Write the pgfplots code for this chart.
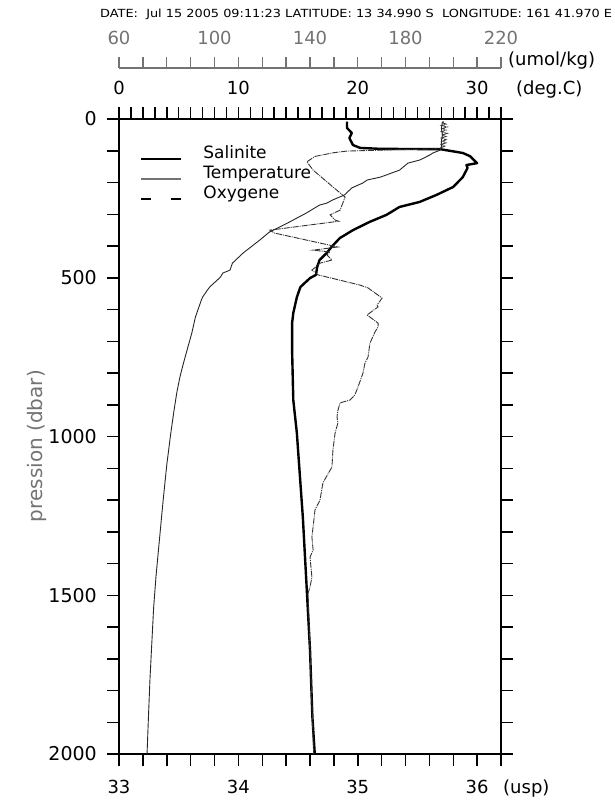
\documentclass[border=0pt]{standalone}
\usepackage{fontspec}
\setmainfont{DejaVu Sans}
\usepackage{pgfplots}
\pgfplotsset{compat=1.18}
\definecolor{grayt}{gray}{0.45}

\pgfplotstableread{
S p
34.91 8
34.91 28
34.95 44
34.93 60
34.96 82
35.02 91
35.19 94
35.69 95
35.88 107
35.94 117
36.00 139
35.91 145
35.92 154
35.88 183
35.80 214
35.66 239
35.52 261
35.35 277
35.24 302
35.10 324
34.96 350
34.85 375
34.78 403
34.74 422
34.68 444
34.66 466
34.65 491
34.60 501
34.52 529
34.49 561
34.46 611
34.45 643
34.45 728
34.46 885
34.49 989
34.50 1043
34.54 1254
34.57 1461
34.60 1672
34.62 1883
34.64 2000
}\salt

\pgfplotstableread{
T p
27.1 8
27.0 30
27.1 50
27.0 70
27.0 90
26.9 98
26.3 107
26.05 113
25.2 129
24.2 139
23.5 161
21.9 183
20.8 192
20.4 202
19.5 217
18.9 239
17.9 255
17.4 265
16.8 271
15.7 296
14.1 328
12.6 356
11.8 381
10.4 422
9.5 454
9.3 476
8.7 485
8.5 498
7.6 529
7.4 539
7.0 561
6.9 570
6.4 624
6.1 674
5.7 728
5.4 769
5.1 813
4.85 860
4.6 920
4.3 1000
4.0 1090
3.7 1200
3.4 1320
3.1 1440
2.9 1540
2.75 1650
2.6 1760
2.47 1880
2.35 2000
}\temp

\pgfplotstableread{
O p
196 8
195.5 12
197 16
195 20
197.5 25
195.5 30
197 35
195 40
197.5 45
195.5 50
197 55
195 60
197 65
195.5 70
197 75
195 80
196.5 85
195 90
194 94
175 97
155.5 101
150 106
142 118
138.7 135
141.3 161
149.6 214
154.7 246
152.6 287
148.4 302
150.5 318
152 322
123.2 350
125 359
151.7 403
141.3 413
148.4 419
147.1 428
149.2 444
144.2 454
140.8 476
143.4 491
160.9 523
164.3 532
170.2 564
168.1 586
168.5 592
163.9 617
168.5 643
168.5 655
167.2 671
165.1 706
164.3 750
163 769
162.2 800
160.1 844
158.8 869
156.8 885
152.6 894
151.7 917
151.3 939
151.7 957
150.5 989
149.6 1043
149.2 1096
145.4 1146
144.2 1200
142.1 1231
140.8 1317
141.3 1357
140 1380
140.8 1443
140 1474
139.2 1493
140 1672
141 1883
141.5 2000
}\oxy

\pgfplotsset{
  prof/.style={width=382pt, height=635pt, scale only axis,
    at={(119pt,-754pt)}, anchor=south west,
    ymin=0, ymax=2000, y dir=reverse},
  ticks18/.style={tick align=outside, major tick length=12pt, minor tick length=12pt,
    every tick/.style={black, line width=1.5pt},
    axis line style={-, line width=1.8pt},
    ticklabel style={font=\fontsize{18}{20}\selectfont, inner sep=0pt}},
}

\begin{document}
\begin{tikzpicture}[x=1pt,y=1pt]
\path[use as bounding box] (0,0) rectangle (615,-805);

\node[anchor=base west, inner sep=0pt] at (100,-18)
  {\resizebox{512pt}{8.5pt}{DATE:\ \ Jul 15 2005 09:11:23 LATITUDE: 13 34.990 S\ \ LONGITUDE: 161 41.970 E}};

% main axis: salinity
\begin{axis}[prof, ticks18,
  xmin=33, xmax=36.2,
  xtick={33,34,35,36}, xticklabels={33,34,35,36},
  minor xtick={33.2,33.4,33.6,33.8,34.2,34.4,34.6,34.8,35.2,35.4,35.6,35.8,36.2},
  xtick pos=bottom,
  ytick={0,500,1000,1500,2000}, yticklabels={0,500,1000,1500,2000},
  minor ytick={100,200,300,400,600,700,800,900,1100,1200,1300,1400,1600,1700,1800,1900},
  ytick pos=both, yticklabel pos=left,
  xticklabel style={anchor=base, yshift=-27pt},
  yticklabel style={anchor=east, xshift=-10pt, font=\fontsize{19}{21}\selectfont},
  ylabel={pression (dbar)},
  ylabel style={at={(axis description cs:-0.215,0.485)}, anchor=center, color=grayt,
    font=\fontsize{20}{22}\selectfont},
  legend style={draw=none, fill=none, inner sep=0pt, outer sep=0pt,
    at={(0.055,0.9575)}, anchor=north west,
    font=\fontsize{17}{20}\selectfont,
    cells={anchor=base west},
    nodes={inner sep=0pt, text height=13pt, text depth=4pt},
    row sep=3pt,
    /tikz/every odd column/.append style={column sep=21pt}},
  legend image code/.code={\draw[#1] (0pt,0pt) -- (40pt,0pt);},
]
\addplot[black, line width=2.4pt, line join=round] table[x=S, y=p] {\salt};
\addlegendimage{grayt, line width=1.6pt}
\addlegendimage{black, line width=1.3pt, dash pattern=on 10pt off 20pt}
\legend{Salinite, Temperature, Oxygene}
\end{axis}

% temperature axis
\begin{axis}[prof, ticks18,
  xmin=0, xmax=32,
  axis x line*=top, axis y line=none,
  xtick={0,10,20,30}, xticklabels={0,10,20,30},
  minor xtick={0,1,...,32},
  xticklabel style={yshift=12pt},
]
\addplot[black!85, line width=0.9pt, line join=round] table[x=T, y=p] {\temp};
\end{axis}

% oxygen data
\begin{axis}[prof, xmin=60, xmax=220, hide axis]
\addplot[black!80, line width=0.9pt, dash pattern=on 6pt off 1pt on 1pt off 1pt]
  table[x=O, y=p] {\oxy};
\end{axis}

% oxygen scale
\begin{axis}[at={(119pt,-68pt)}, anchor=north west, width=382pt, height=8pt,
  scale only axis, xmin=60, xmax=220, ymin=0, ymax=1,
  axis x line*=top, axis y line=none,
  tick align=outside, major tick length=11pt, minor tick length=11pt,
  every tick/.style={grayt, line width=1.4pt},
  axis line style={-, grayt, line width=1.4pt},
  ticklabel style={font=\fontsize{18}{20}\selectfont, inner sep=0pt, color=grayt},
  xticklabel style={yshift=12.5pt},
  xtick={60,100,140,180,220}, xticklabels={60,100,140,180,220},
  minor xtick={60,70,...,220},
]
\end{axis}

\node[anchor=base west, inner sep=0pt, font=\fontsize{18}{20}\selectfont] at (508,-66) {(umol/kg)};
\node[anchor=base west, inner sep=0pt, font=\fontsize{18}{20}\selectfont] at (516,-95) {(deg.C)};
\node[anchor=base west, inner sep=0pt, font=\fontsize{18}{20}\selectfont] at (503,-793) {(usp)};
\end{tikzpicture}
\end{document}
